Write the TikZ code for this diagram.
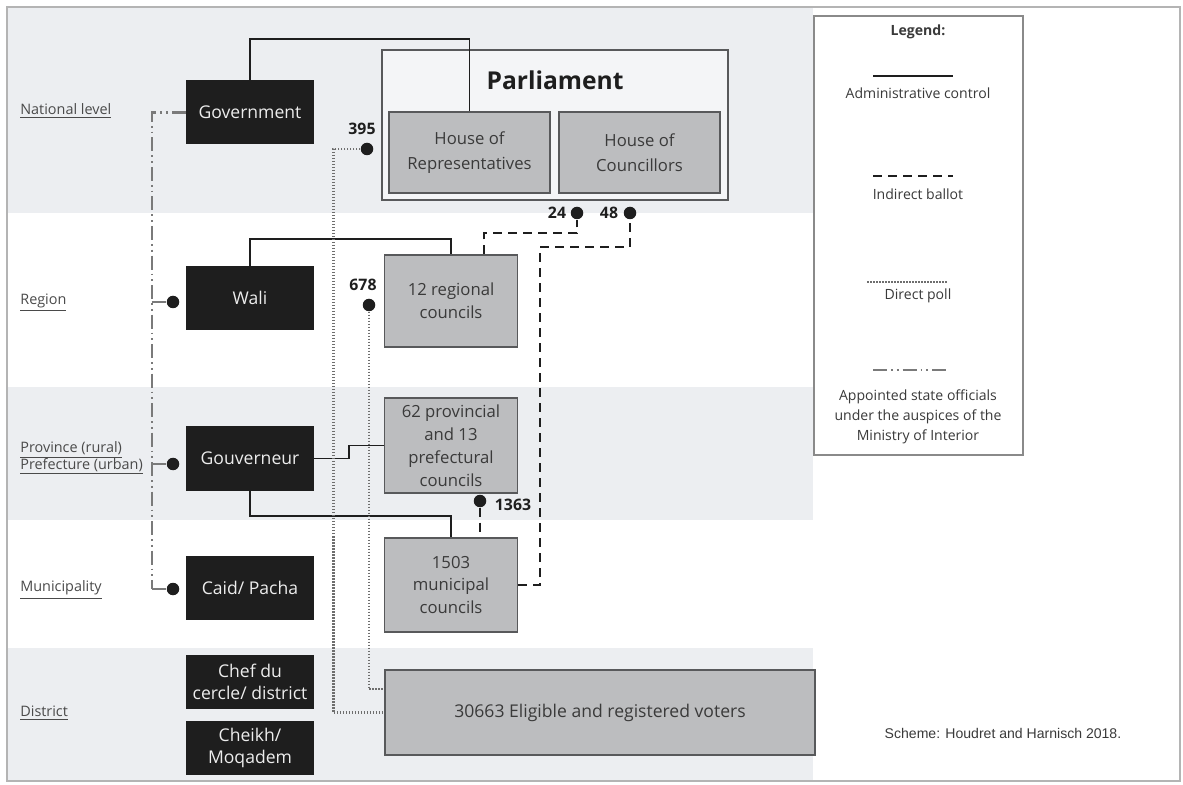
\documentclass[tikz,border=0pt]{standalone}
\usepackage{fontspec}
\setmainfont{Open Sans}
\newfontfamily\schemefont{Liberation Sans}
\usetikzlibrary{calc}
\definecolor{offblack}{HTML}{1E1E1E}
\definecolor{offwhite}{HTML}{EDEDED}
\definecolor{boxfill}{HTML}{BCBDBF}
\definecolor{boxline}{HTML}{58595B}
\definecolor{parlfill}{HTML}{F4F5F7}
\definecolor{band}{HTML}{ECEEF1}
\definecolor{textdark}{HTML}{3A3A3A}
\definecolor{labelgrey}{HTML}{4A4A4A}
\definecolor{pollgrey}{HTML}{6E6E6E}
\definecolor{appgrey}{HTML}{7A7A7A}
\definecolor{legline}{HTML}{8A8A8A}
\definecolor{frame}{HTML}{B4B4B4}

\begin{document}
\begin{tikzpicture}[x=0.2mm,y=0.2mm]
\tikzstyle{every node}+=[inner sep=0pt]
\tikzstyle{officer}=[fill=offblack,text=offwhite,minimum width=25.6mm,minimum height=12.8mm,align=center,font=\fontsize{10}{12.5}\selectfont]
\tikzstyle{council}=[draw=boxline,fill=boxfill,line width=0.8pt,text=textdark,align=center,minimum width=26.6mm,font=\fontsize{9.5}{13}\selectfont]
\tikzstyle{house}=[council,minimum width=32.2mm,minimum height=16.2mm,font=\fontsize{9.5}{14}\selectfont]
\tikzstyle{tier}=[anchor=west,text=labelgrey,align=left,font=\fontsize{8.2}{9.6}\selectfont]
\tikzstyle{key}=[text=textdark,align=center,font=\fontsize{8}{11.4}\selectfont]
\tikzstyle{seats}=[text=offblack,font=\bfseries\fontsize{9}{11}\selectfont]
\tikzstyle{seatdot}=[circle,fill=offblack,minimum size=2.5mm]
\tikzstyle{admin}=[draw=offblack,line width=1.1pt]
\tikzstyle{ballot}=[draw=offblack,line width=1.1pt,dash pattern=on 1.8mm off 1.2mm]
\tikzstyle{poll}=[draw=pollgrey,line width=1.3pt,dash pattern=on 0.3mm off 0.3mm]
\tikzstyle{appoint}=[draw=appgrey,line width=1.2pt,dash pattern=on 2.8mm off 0.8mm on 0.35mm off 0.8mm on 0.35mm off 0.8mm]
\tikzstyle{stub}=[draw=appgrey,line width=1.2pt]
\useasboundingbox (0,0) rectangle (1183,-785);
\fill[band] (7,-7) rectangle (813,-213);
\fill[band] (7,-387) rectangle (813,-520);
\fill[band] (7,-648) rectangle (813,-780);
\draw[frame,line width=0.6pt] (7,-7) rectangle (1180,-781);

\node[tier] (lnat) at (20,-111) {\underline{National level}};
\node[tier] (lreg) at (20,-303) {\underline{Region}};
\node[tier] (lprov) at (20,-458) {\underline{Province (rural)}\\\underline{Prefecture (urban)}};
\node[tier] (lmun) at (20,-590) {\underline{Municipality}};
\node[tier] (ldis) at (20,-713) {\underline{District}};

\node[draw=boxline,fill=parlfill,line width=0.8pt,minimum width=69.2mm,minimum height=30mm] (parl) at (555,-125) {};
\node[text=offblack,font=\bfseries\fontsize{14}{16}\selectfont] (parltitle) at (555,-80) {Parliament};
\node[house] (rep) at (469.5,-152.5) {House of\\Representatives};
\node[house] (coun) at (639.5,-152.5) {House of\\Councillors};
\node[officer] (gov) at (250,-112.5) {Government};
\draw[admin] (gov.north) -- ++(0,41) -| (rep.north);

\node[officer] (wali) at (250,-298) {Wali};
\node[officer] (gouv) at (250,-458.5) {Gouverneur};
\node[officer] (caid) at (250,-588) {Caid/ Pacha};
\node[officer,minimum height=10.8mm] (chef) at (250,-682) {Chef du\\cercle/ district};
\node[officer,minimum height=10.8mm] (cheikh) at (250,-748) {Cheikh/\\Moqadem};

\node[council,minimum height=18.4mm] (reg) at (451,-301) {12 regional\\councils};
\node[council,minimum height=19mm] (prov) at (451,-445.5) {62 provincial\\and 13\\prefectural\\councils};
\node[council,minimum height=18.8mm] (muni) at (451,-585) {1503\\municipal\\councils};
\node[council,minimum width=86mm,minimum height=17mm,font=\fontsize{10}{12}\selectfont] (voters) at (600,-712.5) {30663 Eligible and registered voters};

\node[seatdot] (d395) at (367,-149) {};
\node[seatdot] (d678) at (369,-305) {};
\node[seatdot] (d24) at (577,-213) {};
\node[seatdot] (d48) at (630,-213) {};
\node[seatdot] (d1363) at (480,-501) {};
\node[seatdot] (dwali) at (173,-302) {};
\node[seatdot] (dgouv) at (173,-464) {};
\node[seatdot] (dcaid) at (173,-589) {};
\node[seats] (n395) at (362,-129) {395};
\node[seats] (n678) at (363,-285) {678};
\node[seats] (n24) at (557,-213) {24};
\node[seats] (n48) at (609,-213) {48};
\node[seats] (n1363) at (513,-505) {1363};

\draw[admin] (wali.north) -- ++(0,27) -| (reg.north);
\draw[admin] (gouv.east) -- ++(35,0) |- (prov.west);
\draw[admin] (gouv.south) -- ++(0,-25) -| (muni.north);

\coordinate (vtop) at ([yshift=-4mm]voters.north west);
\draw[poll] (d395.west) -- ++(-27,0) |- (voters.west);
\draw[poll] (d678.south) |- (vtop);

\draw[ballot] ([xshift=6.6mm]reg.north) -- ++(0,21) -| (d24.south);
\draw[ballot] (muni.east) -- ++(22,0) -- ++(0,338) -| (d48.south);
\draw[ballot] (d1363.south) -- (d1363 |- muni.north);

\coordinate (spine) at ([xshift=-6.8mm]gov.west);
\draw[appoint] (gov.west) -- (spine) -- (spine |- dcaid);
\draw[stub] (spine |- dwali) -- (dwali);
\draw[stub] (spine |- dgouv) -- (dgouv);
\draw[stub] (spine |- dcaid) -- (dcaid);

\node[draw=legline,fill=white,line width=0.8pt,minimum width=41.8mm,minimum height=87.8mm] (legend) at (918.5,-235.5) {};
\node[key,font=\bfseries\fontsize{8}{10}\selectfont] (ltitle) at (918,-32) {Legend:};
\draw[admin] (873,-76) -- (953,-76);
\node[key] (ladmin) at (918,-93) {Administrative control};
\draw[ballot] (873,-176) -- (953,-176);
\node[key] (lballot) at (918,-194) {Indirect ballot};
\draw[poll,line width=0.8pt] (867,-282) -- (947,-282);
\node[key] (lpoll) at (918,-296) {Direct poll};
\draw[appoint] (873,-370) -- (948,-370);
\node[key] (lappoint) at (918,-417) {Appointed state officials\\under the auspices of the\\Ministry of Interior};

\node[text=textdark,font=\schemefont\fontsize{8}{10}\selectfont] (scheme) at (1003,-733) {Scheme: Houdret and Harnisch 2018.};
\end{tikzpicture}
\end{document}
